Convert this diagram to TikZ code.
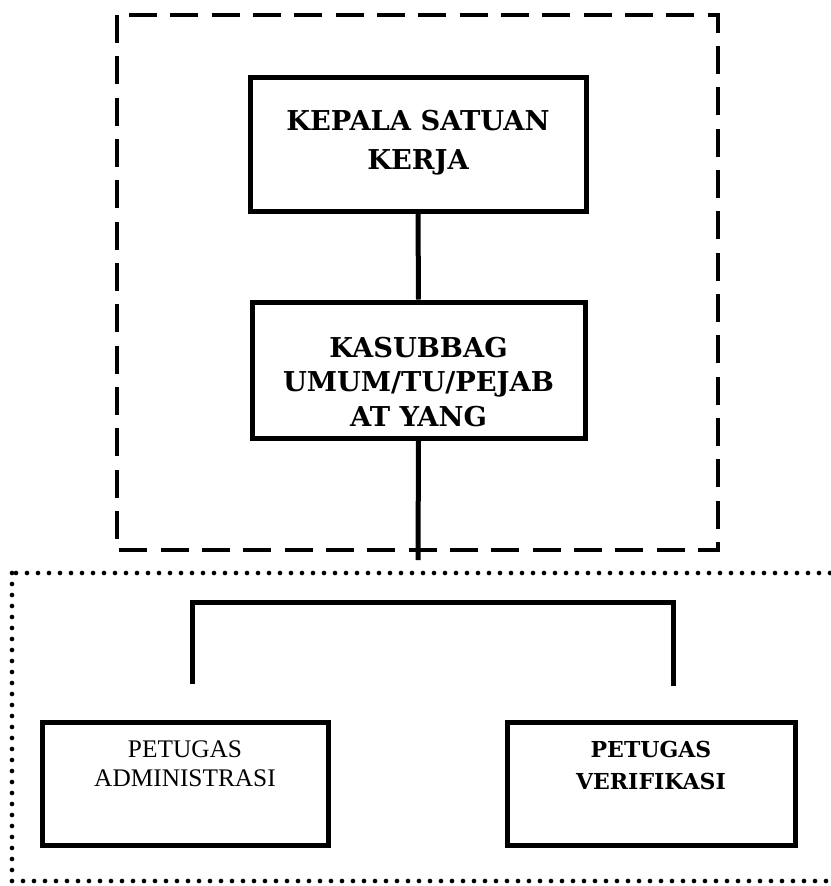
\documentclass[tikz,border=0pt]{standalone}
\usepackage{fontspec}
\setmainfont{Liberation Serif}
\newfontfamily\headfont{DejaVu Serif}[BoldFont={DejaVu Serif Bold}]
\begin{document}
\begin{tikzpicture}[x=0.75pt,y=-0.75pt,
  unitbox/.style={draw,line width=3.75pt,inner sep=0pt},
  link/.style={line width=3.75pt},
  headtext/.style={align=center,font=\headfont\bfseries\fontsize{20.5}{26}\selectfont},
  plaintext/.style={align=center,font=\fontsize{19}{21.75}\selectfont},
  grouptop/.style={line width=3pt,dash pattern=on 21pt off 10pt},
  groupbottom/.style={line width=3.5pt,line cap=round,dash pattern=on 0pt off 8.25pt}]
\useasboundingbox (0,0) rectangle (831,886);
\clip (0,0) rectangle (831,886);

% management group (dashed frame)
\draw[grouptop] (117,15) rectangle (718,550);
% staff group (dotted frame, running past the right edge)
\draw[groupbottom] (12,573) rectangle (850,881);

% boxes
\node[unitbox,minimum width=336*0.75pt,minimum height=134*0.75pt] (kepala) at (418,144) {};
\node[headtext,font=\headfont\bfseries\fontsize{20.5}{29}\selectfont] (kepalaText) at (418,143) {KEPALA SATUAN\\KERJA};

\node[unitbox,minimum width=333*0.75pt,minimum height=136*0.75pt] (kasub) at (418.5,370) {};
\node[headtext] (kasubText) at (418.5,382) {KASUBBAG\\UMUM/TU/PEJAB\\AT YANG};

\node[unitbox,minimum width=286*0.75pt,minimum height=123*0.75pt] (admin) at (185,783.5) {};
\node[plaintext] (adminText) at (185,764) {PETUGAS\\ADMINISTRASI};

\node[unitbox,minimum width=288*0.75pt,minimum height=123*0.75pt] (verif) at (651,783.5) {};
\node[headtext,font=\headfont\bfseries\fontsize{16.5}{24}\selectfont] (verifText) at (651,765) {PETUGAS\\VERIFIKASI};

% connectors
\coordinate (kasubEnd) at (418,560);
\coordinate (leftEnd) at (192,684);
\coordinate (rightEnd) at (673,686);
\draw[link] (kepala.south) -- (kasub.north);
\draw[link] (kasub.south) -- (kasubEnd);
\draw[link] (leftEnd) |- (rightEnd |- 0,602) -- (rightEnd);
\end{tikzpicture}
\end{document}
